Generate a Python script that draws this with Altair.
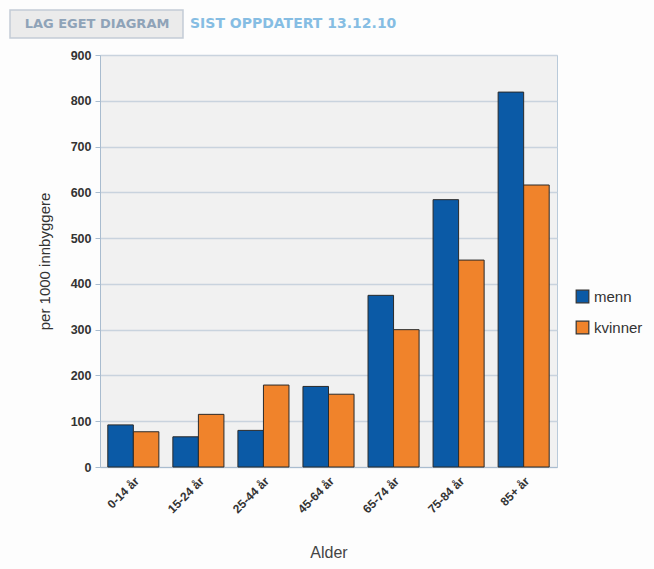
import altair as alt
import pandas as pd

ages = ["0-14 år", "15-24 år", "25-44 år", "45-64 år", "65-74 år", "75-84 år", "85+ år"]
menn = [92, 66, 80, 176, 375, 584, 819]
kvinner = [77, 115, 179, 159, 300, 452, 616]
series = ["menn", "kvinner"]
colors = ["#0b5aa6", "#f0832b"]

rows = []
for i, a in enumerate(ages):
    rows.append({"Alder": a, "kjønn": "menn", "verdi": menn[i]})
    rows.append({"Alder": a, "kjønn": "kvinner", "verdi": kvinner[i]})
df = pd.DataFrame(rows)

FONT = "Liberation Sans"

bars = alt.Chart(df).mark_bar(stroke="#2a2a2a", strokeWidth=1).encode(
    x=alt.X("Alder:N", sort=ages, title="Alder",
            scale=alt.Scale(paddingInner=0.215, paddingOuter=0.12),
            axis=alt.Axis(labelAngle=-45, labelFont=FONT, labelFontSize=12,
                          labelFontWeight="bold", labelColor="#333333",
                          titleFont=FONT, titleFontSize=16, titleFontWeight="normal",
                          titleColor="#444444", titlePadding=30,
                          domainColor="#a9bccf", tickColor="#a9bccf", ticks=False,
                          labelPadding=8)),
    xOffset=alt.XOffset("kjønn:N", sort=series, scale=alt.Scale(paddingInner=0, paddingOuter=0)),
    y=alt.Y("verdi:Q", title="per 1000 innbyggere",
            scale=alt.Scale(domain=[0, 900], nice=False),
            axis=alt.Axis(values=list(range(0, 901, 100)), labelFont=FONT, labelFontSize=12.5,
                          labelFontWeight="bold", labelColor="#333333",
                          titleFont=FONT, titleFontSize=15, titleFontWeight="normal",
                          titleColor="#333333", titlePadding=18,
                          gridColor="#c9d3de", gridWidth=1.5,
                          domainColor="#a9bccf", tickColor="#a9bccf", tickSize=5,
                          labelPadding=4)),
    color=alt.Color("kjønn:N", sort=series,
                    scale=alt.Scale(domain=series, range=colors),
                    legend=alt.Legend(title=None, orient="none", legendX=475, legendY=234,
                                      symbolType="square", symbolSize=160,
                                      symbolStrokeColor="#333333", symbolStrokeWidth=1.2,
                                      labelFont=FONT, labelFontSize=15, labelColor="#333333",
                                      rowPadding=12, labelOffset=4)),
)

hdr = pd.DataFrame({"t": [0]})
box = alt.Chart(hdr).mark_rect(fill="#ebebeb", stroke="#c3ccd6", strokeWidth=1.5).encode(
    x=alt.value(-90), x2=alt.value(83), y=alt.value(-45), y2=alt.value(-17))
t1 = alt.Chart(hdr).mark_text(text="LAG EGET DIAGRAM", font="DejaVu Sans", fontSize=13,
                              fontWeight="bold", color="#8fa3b8", align="center",
                              baseline="middle").encode(x=alt.value(-3), y=alt.value(-31))
t2 = alt.Chart(hdr).mark_text(text="SIST OPPDATERT 13.12.10", font="DejaVu Sans", fontSize=14,
                              fontWeight="bold", color="#86bde3", align="left",
                              baseline="middle").encode(x=alt.value(90), y=alt.value(-31))

chart = alt.layer(bars, box, t1, t2).properties(
    width=457, height=412,
    autosize=alt.AutoSizeParams(type="none"),
    padding={"left": 100, "top": 55, "right": 97, "bottom": 102},
    background="#fdfdfd",
).configure_view(fill="#f1f1f1", stroke="#b9cada", strokeWidth=1)

chart.save("out.html", embed_options={"renderer": "svg", "actions": False})
